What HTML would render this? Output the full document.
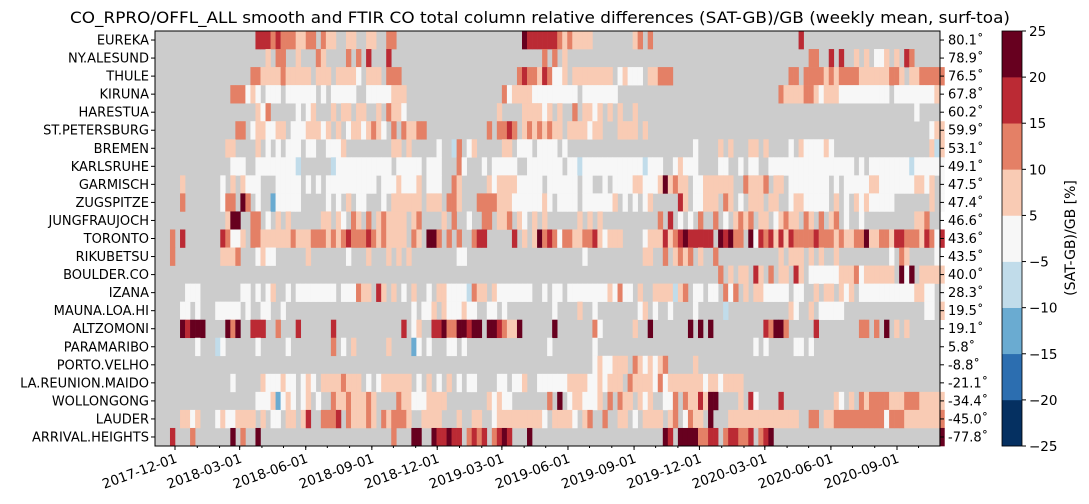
<!DOCTYPE html>
<html><head><meta charset="utf-8">
<style>
html,body{margin:0;padding:0;background:#fff;}
svg{display:block;font-family:"DejaVu Sans","Liberation Sans",sans-serif;}
</style></head>
<body>
<svg id="chart" width="1089" height="504" viewBox="0 0 1089 504" xmlns="http://www.w3.org/2000/svg">
<text x="540" y="23" font-size="16" text-anchor="middle" textLength="940" lengthAdjust="spacingAndGlyphs">CO_RPRO/OFFL_ALL smooth and FTIR CO total column relative differences (SAT-GB)/GB (weekly mean, surf-toa)</text>
<g id="cells"></g>
<g id="axes"></g>
<g id="cbar"></g>
<text transform="translate(1075,238) rotate(-90)" font-size="14" text-anchor="middle">(SAT-GB)/GB [%]</text>
</svg>
<script>
const stations = ["EUREKA","NY.ALESUND","THULE","KIRUNA","HARESTUA","ST.PETERSBURG","BREMEN","KARLSRUHE","GARMISCH","ZUGSPITZE","JUNGFRAUJOCH","TORONTO","RIKUBETSU","BOULDER.CO","IZANA","MAUNA.LOA.HI","ALTZOMONI","PARAMARIBO","PORTO.VELHO","LA.REUNION.MAIDO","WOLLONGONG","LAUDER","ARRIVAL.HEIGHTS"];
const latitudes = ["80.1˚","78.9˚","76.5˚","67.8˚","60.2˚","59.9˚","53.1˚","49.1˚","47.5˚","47.4˚","46.6˚","43.6˚","43.5˚","40.0˚","28.3˚","19.5˚","19.1˚","5.8˚","-8.8˚","-21.1˚","-34.4˚","-45.0˚","-77.8˚"];
const startWeek = "2017-11-03";
const tickDates = ["2017-12-01","2018-03-01","2018-06-01","2018-09-01","2018-12-01","2019-03-01","2019-06-01","2019-09-01","2019-12-01","2020-03-01","2020-06-01","2020-09-01"];
const cbarBounds = [-25,-20,-15,-10,-5,5,10,15,20,25];
const cbarColors = ["#053061","#2c6eb0","#6aabd1","#c1dcea","#f7f7f7","#f9cbb4","#e48066","#bb2a34","#67001f"];
const codeValues = {".":null,"w":0,"b":-7,"B":-12,"N":-17,"p":7,"o":12,"r":17,"d":22};
// run-length encoded weekly values per station (codes map to % difference via codeValues)
const weeklyRLE = [
"20. 3r o r 3o 2p 2o . o 2p 2. 2p 2. 2p 2. 2o 25. d 5r r o p o 4p 8. p o . o 29. r 28.",
"22. p . 2o 2. p 3. o p 4. o . o . r 3. r 30. o . o . p 48. 2o 2. r . r 2. p . p . 2w p . p . r o 6.",
"19. 2o 4p o 5p . 3p . 4p w . 3p . 3o 23. o r 2o p r o 2w p . 8p . w p 3w . 2p 3o 23. 2o . 4o p o p 4o 6p 2o p . 2p 5o",
"15. 3o w p w . 3w . 6w . w . 5w 2. 5w 3p 19. o w 4p 4w 5w . 7w 32. o 4p 2o p w 3p 10w . 8w p .",
"20. p w o 5. w . w p 3. p . 2p . 2p 2. p . o 2p w 18. p 4. 4p w p . p . . o . 2p w p . p . p 2. p 55. w 5.",
"16. 2o . w 2p 2w 2p . 3w 3p w p . p . w 2p w p o p w . o . o 2p 2o 12. o . 2o r o . p o p o p o 2p . 4p w 2p 3. 4p . p 56. w 2p",
"14. 2p 4. p . w . w . 3w . 2w 2. 3w p 9. 2p . p 5. w 2. b o . w p 5. 2p . 3w . 3w w . w 25. w 4. p . p 3. 2p . p 4. w . p 4w p w 19. p b p",
"15. 3w 2. 8w b 6. b 11w . 5w . 3w 3. o w 3. w . 5w 2. 5w 2w . 2w b 12w b 3w 2. w p 3w 4. 2w 2. w . 2w 2. 17w . w . 8w b 6w",
"5. p 7. w . p . p 3w 3. 5w . w . w . 10w . 3w p 3w p . 3w 2. o p 5. p w 4p 5w . w 5w . 2w 2. w . 4w 2p 3w p d p o 2p . 2w 6p 2. o 3p o . 2p . 8w . w . 5w 2p 7w 2p w p . w",
"5. o 7. w 2o . d o . w . . B 5w 5. w . w . p . 2w 3. w . 6p . 3p . 2o p 3. 4o 3p 6w p w . 4w . 6w p . w . w . w p 5. r p . 2w 3p . o p . w . 3p . 2p 2. w 2p 5w . p . w . p w p 5w 7. p . w",
"14. p 2d 2. 2o . w . p . p 6. 2p . p w . o p . o . p o 4p . p o 4. p . o 2. w 2. 2o . 2p o . p w . p . p . 5. p . p . p 11. o . r . w . w . o 2. o . w . p o p o . 2p . w p o 2p . o p . o . p o . w 2. w 10. 2p o 2.",
"3. o . r 7. r o 2w p . 2o 6p o 3p 3o p o p o r 3o r o p o 4p . o p . 2d o . o . o 2. o 2r 5. r . p . p d o r o w 2o 2p 2o r p w 3p 4. w 3p r p o r d 5r . d r d 2o . d w r o r p r p r 4o r 3o p o 2p 2o d 2p 2o p 2r 3o p r o w r",
"3. o 9. 3p o 3. w p 2w 6. p 7. w 3. p 3. p . p . p 9. 2w 17. 6. w 11. 2p 2. o . p o p o . p 2. o 12. p . 3p . p . p 2. p 10. w . o p 5. w",
"112. o . p . 2p . r p . o . 2p . r p . 6w 3p o w 6p . d w d . 5p",
"6. 3w 8. 2w . w . w p 2. w . 8w . 3w o 2p . r p . p . w . p 2. w . 2p 4w b o 2p . p 7w 2. w . 2w . 8w p w o 2w . p 2. 4p b p o . 2w . 2w . o w o . p . 2p 5w . 2w 2. p . 2p . p w p . 11w 2p 2w . w",
"5. 2w . w 3. 5w . w 2. 2w 2. w 25. w . 2w p . p 3w p 2w 2. 2w . w 9. w 4. p 2. w 8. w p . w 2. w 4. w 5. b 12. p w 2. p . 5w 16. 2w . p",
"5. d r 3d 4. d o d 2. 3r 2. o 3. r 6. r 13. r . w p 2. 2r d 2o 2d r 2d . 2d r o 2p d 6. d 7. o w 6. p 2. d 7. d . d . d 10. r o 2d o 5. r 8. 2o . o . d . p . p 7.",
"8. w 3. b w 6. w 5. w 8. o . w . p 6. p 4. B w . w 3. 2w . w 16. w 8. w 31. w . w 5. 2w . w",
"87. w p 2w 3p . o p w p w p o 5. p",
"15. w 5. p 3w p 2w . w p w . 4p o 3p . w . w 6p . w . p . w . p . w . 2w 4. 2w . 2w p 2. 2w w 3w 4p 2w p w 3p . o 4p w o w 7p w 2p w 4p",
"20. 3w p B w p w . w p . w 2. o 2p o 3p o p 3. . o 2p 3w 4p 8. p w p 2w 7. o . d . w 2p 3w p . o . o 2p . p w p 2. 2w o . o 2p r p 2d 4. p . r w 4. r 10. p w . p . o p 4o 3p 3o 6p",
"5. 2p w p 3. w p 2w 4p . p . 2w . 2p . p r 2. 3o r . o 3p o p . o p 3o p 2. 4p 3. p 2. 2p 2. w 9p w . 4p w . p o 2. o 2. 2p . w . 4p . p o . w o 2p . d 3. 14p 2. 2o . 2p 10o w 3o 7p o",
"3. r 3. o 7. d . o 2. d 26. o 3. 2d 2. d 2r d 2r . o r o r . o r d r 3. d 4. 22. d r . 4d 2o 2r . o 2r 2o r . o r d 33. d"
];
const NWEEKS = 157;
const SVGNS = "http://www.w3.org/2000/svg";
const PX0 = 155, PX1 = 940, PY0 = 31, PY1 = 446;
const DAY = 86400000;
const ref = Date.parse("2017-12-01"), refX = 175, pxPerDay = 722/1005;
function xOfDate(ms){ return refX + (ms - ref)/DAY*pxPerDay; }
function yOfRow(i){ return PY0 + i*(PY1-PY0)/stations.length; }
const rowH = (PY1-PY0)/stations.length;
function colorOf(v){
  for(let k=0;k<cbarColors.length;k++){ if(v < cbarBounds[k+1]) return cbarColors[k]; }
  return cbarColors[cbarColors.length-1];
}
function decode(rle){
  const out=[];
  rle.trim().split(/\s+/).forEach(t=>{
    const m=t.match(/^(\d*)(.)$/); const n=m[1]?parseInt(m[1]):1;
    for(let i=0;i<n;i++) out.push(codeValues[m[2]]);
  });
  while(out.length<NWEEKS) out.push(null);
  return out.slice(0,NWEEKS);
}
function mk(tag, attrs, parent){
  const e=document.createElementNS(SVGNS,tag);
  for(const k in attrs) e.setAttribute(k,attrs[k]);
  parent.appendChild(e); return e;
}
const cells=document.getElementById("cells");
const bg=mk("rect",{x:PX0,y:PY0,width:PX1-PX0,height:PY1-PY0,fill:"#cccccc"},cells);


const w0 = Date.parse(startWeek);
stations.forEach((s,i)=>{
  const vals=decode(weeklyRLE[i]);
  vals.forEach((v,j)=>{
    if(v===null) return;
    const xa=xOfDate(w0+j*7*DAY), xb=xOfDate(w0+(j+1)*7*DAY);
    const r=mk("rect",{x:xa.toFixed(2),y:yOfRow(i).toFixed(2),width:(xb-xa+0.3).toFixed(2),height:(rowH+0.3).toFixed(2),fill:colorOf(v)},cells);
    
    
  });
});
const axes=document.getElementById("axes");
const frame=mk("rect",{x:PX0,y:PY0,width:PX1-PX0,height:PY1-PY0,fill:"none",stroke:"#000","stroke-width":1},axes);


stations.forEach((s,i)=>{
  const yc=yOfRow(i)+rowH/2;
  mk("line",{x1:PX0-4,x2:PX0,y1:yc,y2:yc,stroke:"#000"},axes);
  mk("line",{x1:PX1,x2:PX1+4,y1:yc,y2:yc,stroke:"#000"},axes);
  const t=mk("text",{x:PX0-6,y:yc+4.5,"font-size":13,"text-anchor":"end"},axes);
  t.textContent=s;
  
  
  const l=mk("text",{x:PX1+8,y:yc+4.5,"font-size":13},axes);
  l.textContent=latitudes[i];
  
  
});
for(let y=2017;y<=2020;y++){ for(let m=0;m<12;m++){
  const ms=Date.UTC(y,m,1); const x=xOfDate(ms);
  if(x<PX0||x>PX1) continue;
  mk("line",{x1:x,x2:x,y1:PY1,y2:PY1+2,stroke:"#000"},axes);
}}
tickDates.forEach(d=>{
  const x=xOfDate(Date.parse(d));
  mk("line",{x1:x,x2:x,y1:PY1,y2:PY1+4,stroke:"#000"},axes);
  const t=mk("text",{transform:`translate(${x+3},${PY1+16}) rotate(-20)`,"font-size":13.5,"text-anchor":"end"},axes);
  t.textContent=d;
  
  
});
const cb=document.getElementById("cbar");
const CX=1002, CW=20, nb=cbarColors.length, bh=(PY1-PY0)/nb;
cbarColors.forEach((c,k)=>{
  const r=mk("rect",{x:CX,y:(PY1-(k+1)*bh).toFixed(2),width:CW,height:(bh+0.3).toFixed(2),fill:c},cb);
  
  
});
mk("rect",{x:CX,y:PY0,width:CW,height:PY1-PY0,fill:"none",stroke:"#000","stroke-width":0.8},cb);
cbarBounds.forEach((b,k)=>{
  const y=PY1-k*bh;
  mk("line",{x1:CX+CW,x2:CX+CW+4,y1:y,y2:y,stroke:"#000"},cb);
  const t=mk("text",{x:CX+CW+7,y:y+5,"font-size":13.5},cb);
  t.textContent=b<0?"\u2212"+Math.abs(b):String(b);
  
  
});
</script>
</body></html>
